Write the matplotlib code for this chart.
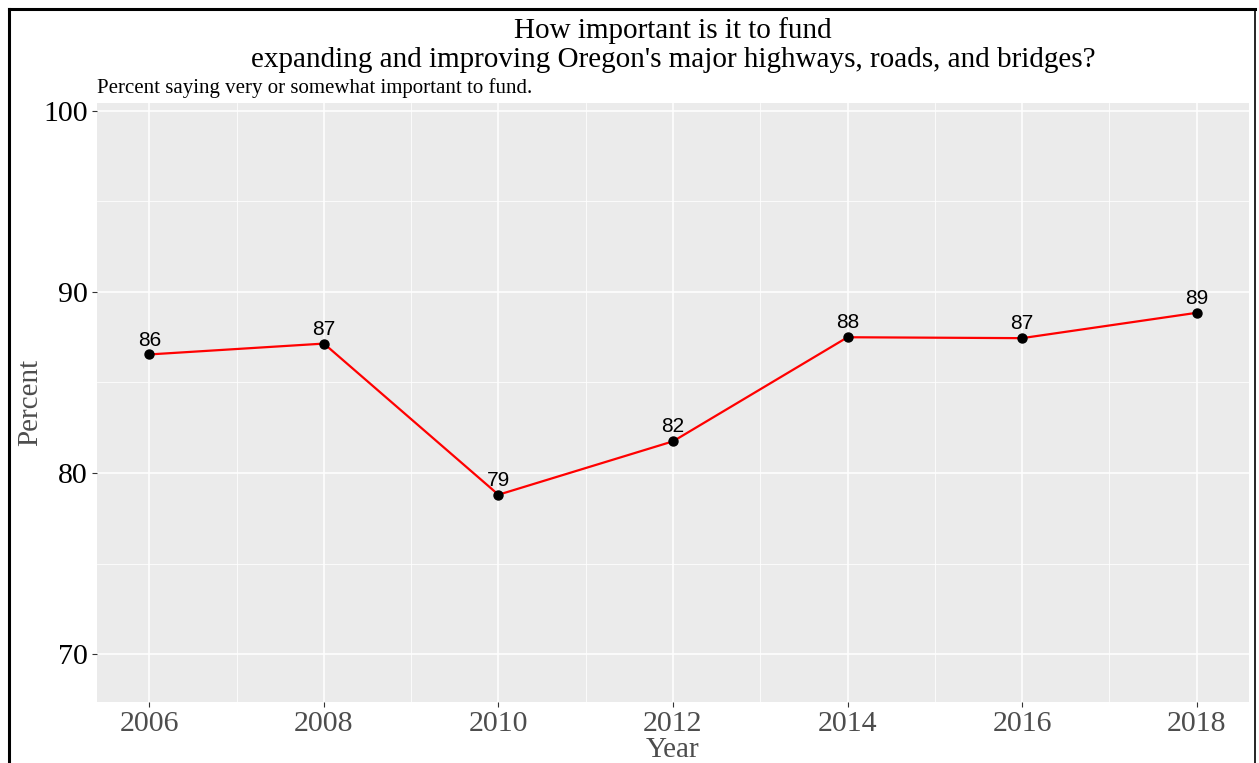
import matplotlib.pyplot as plt
from matplotlib.lines import Line2D
from matplotlib.ticker import MultipleLocator

# data
years = [2006, 2008, 2010, 2012, 2014, 2016, 2018]
percent = [86.55, 87.15, 78.8, 81.75, 87.5, 87.45, 88.85]
labels = ['86', '87', '79', '82', '88', '87', '89']

title = "How important is it to fund\nexpanding and improving Oregon's major highways, roads, and bridges?"
subtitle = "Percent saying very or somewhat important to fund."

serif = 'Liberation Serif'
sans = 'Liberation Sans'

fig = plt.figure(figsize=(12.59, 7.63), dpi=100)
ax = fig.add_axes([97 / 1259, 1 - 702 / 763, (1249 - 97) / 1259, (702 - 103) / 763])

ax.set_facecolor('#EBEBEB')
for s in ax.spines.values():
    s.set_visible(False)

ax.set_xlim(2005.4, 2018.6)
ax.set_ylim(67.35, 100.44)
ax.xaxis.set_major_locator(MultipleLocator(2))
ax.xaxis.set_minor_locator(MultipleLocator(1))
ax.yaxis.set_major_locator(MultipleLocator(10))
ax.yaxis.set_minor_locator(MultipleLocator(5))
ax.grid(which='major', color='white', linewidth=1.1)
ax.grid(which='minor', color='white', linewidth=0.55)
ax.set_axisbelow(True)
ax.tick_params(which='minor', length=0)
ax.tick_params(which='major', length=3.5, width=0.8, color='#333333', pad=3)

ax.plot(years, percent, color='red', linewidth=1.6, zorder=3)
ax.scatter(years, percent, color='black', s=42, zorder=4)
for x, y, lab in zip(years, percent, labels):
    ax.annotate(lab, (x, y), xytext=(0, 3.5), textcoords='offset points',
                ha='center', va='bottom', fontsize=15, family=sans, color='black')

for t in ax.get_xticklabels():
    t.set_fontfamily(serif)
    t.set_fontsize(21.5)
    t.set_color('#4D4D4D')
for t in ax.get_yticklabels():
    t.set_fontfamily(serif)
    t.set_fontsize(21.5)
    t.set_color('black')

ax.set_xlabel('Year', family=serif, fontsize=21, color='#4D4D4D', va='center')
ax.xaxis.set_label_coords(0.5, (702 - 750) / 599)
ax.set_ylabel('Percent', family=serif, fontsize=21, color='#4D4D4D', va='center')
ax.yaxis.set_label_coords((30 - 97) / 1152, 0.5)

fig.text(673 / 1259, 1 - 45 / 763, title, ha='center', va='center',
         family=serif, fontsize=21, linespacing=1.18)
fig.text(97 / 1259, 1 - 88 / 763, subtitle, ha='left', va='center',
         family=serif, fontsize=15)

# frame around the image (left, top, right)
fig.add_artist(Line2D([9 / 1259, 9 / 1259], [0, 1 - 9 / 763], color='black', linewidth=2.2,
                      transform=fig.transFigure))
fig.add_artist(Line2D([9 / 1259, 1255 / 1259], [1 - 9 / 763, 1 - 9 / 763], color='black',
                      linewidth=2.2, transform=fig.transFigure))
fig.add_artist(Line2D([1255 / 1259, 1255 / 1259], [0, 1 - 9 / 763], color='black', linewidth=1.2,
                      transform=fig.transFigure))

fig.savefig('out.png', dpi=100)
